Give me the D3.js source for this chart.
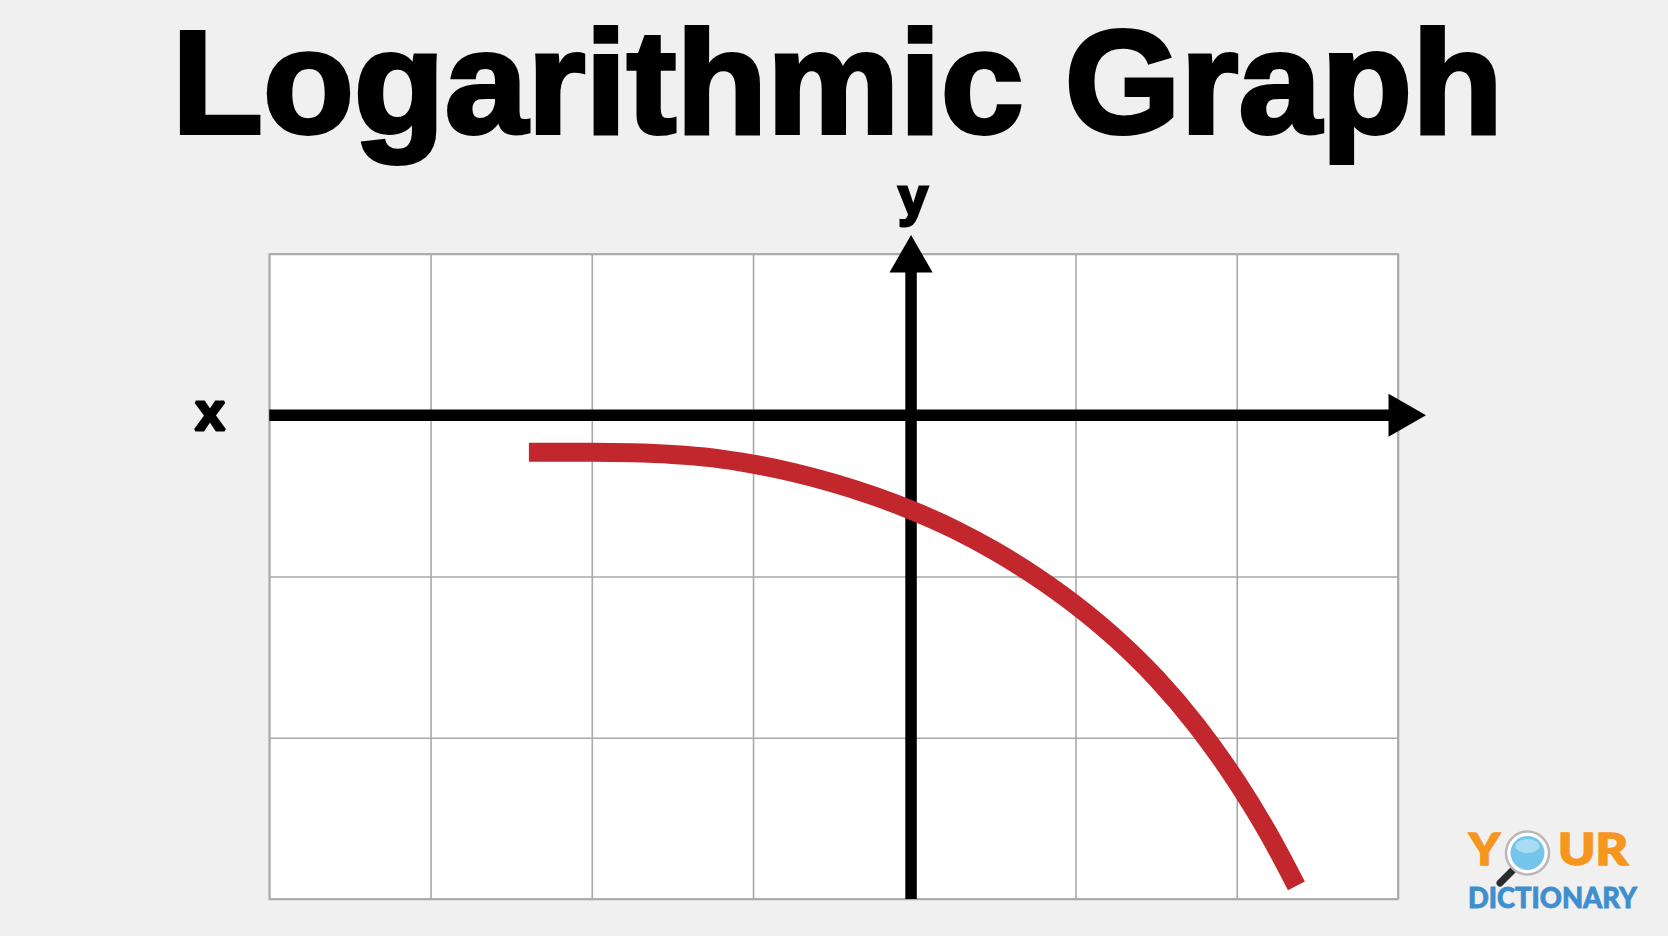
<!DOCTYPE html>
<html>
<head>
<meta charset="utf-8">
<script src="https://cdn.jsdelivr.net/npm/d3@7"></script>
<style>
  html, body { margin: 0; padding: 0; background: #f0f0f0; }
  svg { display: block; }
</style>
</head>
<body>
<svg id="chart" width="1668" height="936"></svg>
<script>
// ---- data ----
const titleText = "Logarithmic Graph";
const xAxisLabel = "x";
const yAxisLabel = "y";
const xGridTicks = [-4, -3, -2, -1, 0, 1, 2, 3];
const yGridTicks = [1, 0, -1, -2, -3];
const curveX = [-2.39, -2.00, -1.75, -1.50, -1.25, -1.00, -0.75, -0.50, -0.25, 0.00, 0.25, 0.50, 0.75, 1.00, 1.25, 1.50, 1.75, 2.00, 2.20, 2.37];
const curveY = [-0.230, -0.230, -0.233, -0.243, -0.264, -0.303, -0.355, -0.421, -0.501, -0.596, -0.708, -0.842, -0.998, -1.177, -1.385, -1.630, -1.923, -2.273, -2.600, -2.919];
const yAxisCross = -0.02;
const xAxisCross = 0;
const logoTop = ["Y", "UR"];
const logoBottom = "DICTIONARY";

// ---- layout ----
const svg = d3.select("#chart");
const plot = { left: 269.3, right: 1398, top: 254, bottom: 899 };
const x = d3.scaleLinear().domain([d3.min(xGridTicks), d3.max(xGridTicks)]).range([plot.left, plot.right]);
const y = d3.scaleLinear().domain([d3.max(yGridTicks), d3.min(yGridTicks)]).range([plot.top, plot.bottom]);
const heavy = "'Liberation Sans', Arial, sans-serif";

// background
svg.append("rect").attr("width", 1668).attr("height", 936).attr("fill", "#f0f0f0");

// title
svg.append("text")
  .attr("x", 172).attr("y", 132.5)
  .attr("textLength", 1331).attr("lengthAdjust", "spacingAndGlyphs")
  .attr("font-family", heavy)
  .attr("font-weight", 700).attr("font-size", 146)
  .attr("fill", "#000").attr("stroke", "#000").attr("stroke-width", 4)
  .attr("stroke-linejoin", "miter").attr("stroke-miterlimit", 2)
  .text(titleText);

// grid
const gridG = svg.append("g");
gridG.append("rect")
  .attr("x", plot.left).attr("y", plot.top)
  .attr("width", plot.right - plot.left).attr("height", plot.bottom - plot.top)
  .attr("fill", "#fff");

const gx = gridG.append("g")
  .attr("transform", `translate(0,${plot.bottom})`)
  .call(d3.axisBottom(x).tickValues(xGridTicks).tickSize(-(plot.bottom - plot.top)).tickFormat(""));
const gy = gridG.append("g")
  .attr("transform", `translate(${plot.left},0)`)
  .call(d3.axisLeft(y).tickValues(yGridTicks).tickSize(-(plot.right - plot.left)).tickFormat(""));
[gx, gy].forEach(g => {
  g.select(".domain").remove();
  g.selectAll(".tick line").attr("stroke", "#a9a9a9").attr("stroke-width", 1.6);
});
gridG.append("rect")
  .attr("x", plot.left).attr("y", plot.top)
  .attr("width", plot.right - plot.left).attr("height", plot.bottom - plot.top)
  .attr("fill", "none").attr("stroke", "#a9a9a9").attr("stroke-width", 1.8);

// axes with arrows
const axW = 11.5, arrowLen = 37.5, arrowHalf = 21.6;
const ax0 = y(xAxisCross);
const ay0 = x(yAxisCross);
const xTip = 1426;
const yTip = 235;
svg.append("line")
  .attr("x1", plot.left).attr("x2", xTip - arrowLen + 1)
  .attr("y1", ax0).attr("y2", ax0)
  .attr("stroke", "#000").attr("stroke-width", axW);
svg.append("path")
  .attr("d", `M${xTip},${ax0} L${xTip - arrowLen},${ax0 - arrowHalf} L${xTip - arrowLen},${ax0 + arrowHalf} Z`)
  .attr("fill", "#000");
svg.append("line")
  .attr("x1", ay0).attr("x2", ay0)
  .attr("y1", plot.bottom).attr("y2", yTip + arrowLen - 1)
  .attr("stroke", "#000").attr("stroke-width", axW);
svg.append("path")
  .attr("d", `M${ay0},${yTip} L${ay0 - arrowHalf},${yTip + arrowLen} L${ay0 + arrowHalf},${yTip + arrowLen} Z`)
  .attr("fill", "#000");

// axis labels
svg.append("text")
  .attr("x", 210).attr("y", 430)
  .attr("text-anchor", "middle")
  .attr("font-family", heavy)
  .attr("font-weight", 700).attr("font-size", 54)
  .attr("stroke", "#000").attr("stroke-width", 3)
  .attr("stroke-linejoin", "miter").attr("stroke-miterlimit", 2)
  .text(xAxisLabel);
svg.append("text")
  .attr("x", 913).attr("y", 215)
  .attr("text-anchor", "middle")
  .attr("font-family", heavy)
  .attr("font-weight", 700).attr("font-size", 53)
  .attr("stroke", "#000").attr("stroke-width", 3)
  .attr("stroke-linejoin", "miter").attr("stroke-miterlimit", 2)
  .text(yAxisLabel);

// curve
const pts = curveX.map((v, i) => [v, curveY[i]]);
const line = d3.line().x(d => x(d[0])).y(d => y(d[1])).curve(d3.curveMonotoneX);
svg.append("path")
  .datum(pts)
  .attr("d", line)
  .attr("fill", "none")
  .attr("stroke", "#c1272d")
  .attr("stroke-width", 19)
  .attr("stroke-linecap", "butt");

// logo
const logo = svg.append("g");
const logoFont = "Lato, 'Open Sans', sans-serif";
logo.append("text")
  .attr("x", 1469).attr("y", 865)
  .attr("font-family", logoFont).attr("font-weight", 900)
  .attr("font-size", 44).attr("fill", "#f6961e")
  .attr("stroke", "#f6961e").attr("stroke-width", 1.5)
  .attr("textLength", 31).attr("lengthAdjust", "spacingAndGlyphs")
  .text(logoTop[0]);
logo.append("text")
  .attr("x", 1558).attr("y", 865)
  .attr("font-family", logoFont).attr("font-weight", 900)
  .attr("font-size", 44).attr("fill", "#f6961e")
  .attr("stroke", "#f6961e").attr("stroke-width", 1.5)
  .attr("textLength", 70).attr("lengthAdjust", "spacingAndGlyphs")
  .text(logoTop[1]);
logo.append("line")
  .attr("x1", 1513).attr("y1", 870).attr("x2", 1500).attr("y2", 883)
  .attr("stroke", "#2b2b2b").attr("stroke-width", 7).attr("stroke-linecap", "round");
logo.append("circle").attr("cx", 1527.5).attr("cy", 853).attr("r", 21.5)
  .attr("fill", "#ffffff").attr("stroke", "#b8b8b8").attr("stroke-width", 2.5);
logo.append("circle").attr("cx", 1527.5).attr("cy", 853).attr("r", 17)
  .attr("fill", "#74c4ec");
logo.append("ellipse").attr("cx", 1527.5).attr("cy", 846).attr("rx", 12).attr("ry", 7)
  .attr("fill", "#a8dcf5");
logo.append("text")
  .attr("x", 1468).attr("y", 907.5)
  .attr("font-family", logoFont).attr("font-weight", 900)
  .attr("font-size", 28).attr("fill", "#3f8fcf")
  .attr("stroke", "#3f8fcf").attr("stroke-width", 0.8)
  .attr("textLength", 169).attr("lengthAdjust", "spacingAndGlyphs")
  .text(logoBottom);
</script>
</body>
</html>
